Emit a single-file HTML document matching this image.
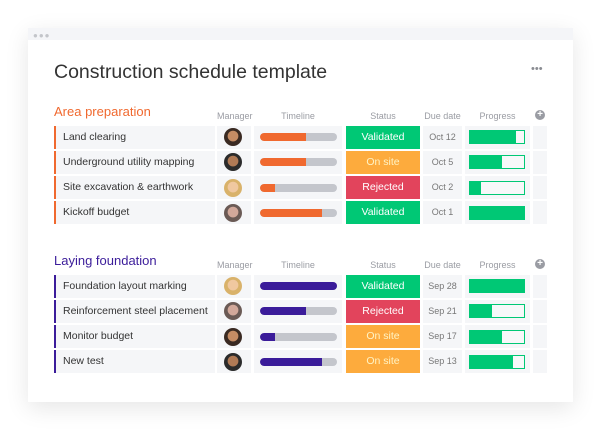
<!DOCTYPE html>
<html><head><meta charset="utf-8"><style>
body{margin:0;width:600px;height:432px;background:#fff;font-family:"Liberation Sans",sans-serif;position:relative;overflow:hidden}
.abs{position:absolute}
#card{left:28px;top:28px;width:545px;height:374px;background:#fff;box-shadow:0 6px 22px rgba(0,0,0,0.10)}
#strip{left:28px;top:28px;width:545px;height:12px;background:#f4f5f8}
.cell{position:absolute;background:#f5f6f8;height:23px}
.txt{font-size:10.5px;color:#333;line-height:23px}
.hdr{font-size:9px;color:#9a9ca3;text-align:center}
</style></head><body>
<div id="card" class="abs"></div>
<div id="strip" class="abs"></div>
<div class="abs" style="left:33px;top:31px;font-size:8px;color:#c3c5ca;letter-spacing:1px">●●●</div>
<div class="abs" style="left:54px;top:61px;font-size:19.5px;color:#333">Construction schedule template</div>
<div class="abs" style="left:531px;top:63px;font-size:11px;color:#8a8c92;letter-spacing:0px">•••</div>
<div id="root"></div>
<script>
const groupTitles=["Area preparation","Laying foundation"];
const groupColors=["#f0692f","#3b1c9a"];
const names=[["Land clearing","Underground utility mapping","Site excavation & earthwork","Kickoff budget"],["Foundation layout marking","Reinforcement steel placement","Monitor budget","New test"]];
const timeline=[[0.6,0.6,0.2,0.8],[1.0,0.6,0.2,0.8]];
const statuses=[["Validated","On site","Rejected","Validated"],["Validated","Rejected","On site","On site"]];
const dueDates=[["Oct 12","Oct 5","Oct 2","Oct 1"],["Sep 28","Sep 21","Sep 17","Sep 13"]];
const progress=[[0.85,0.6,0.2,1.0],[1.0,0.4,0.6,0.8]];
const headers=["Manager","Timeline","Status","Due date","Progress"];
const statusColor={"Validated":"#00c875","On site":"#fdab3d","Rejected":"#e2445c"};
const statusText={"Validated":"#fff","On site":"#fff3c4","Rejected":"#fff"};
const avatarColors=[["#3a2a22","#c58c64"],["#2b2b2b","#b07a55"],["#d9b26a","#f0c8a0"],["#6a5a55","#d2a89a"]];
const root=document.getElementById('root');
function mk(cls,style,html){const d=document.createElement('div');d.className=cls;d.style.cssText=style;if(html!==undefined)d.innerHTML=html;root.appendChild(d);return d;}
const groupTop=[104,253];
const hdrX=[217,254,346,423,465],hdrW=[34,88,74,39,65];
groupTitles.forEach((t,g)=>{
  const gy=groupTop[g];
  let e=mk('abs',`left:54px;top:${gy}px;font-size:13px;color:${groupColors[g]}`,t);
  
  
  headers.forEach((h,i)=>{
    e=mk('abs hdr',`left:${hdrX[i]}px;top:${gy+7}px;width:${hdrW[i]}px`,h);
    
    
  });
  e=mk('abs',`left:535px;top:${gy+6}px;width:10px;height:10px;border-radius:50%;background:#9a9ca3;color:#fff;font-size:10px;line-height:10px;text-align:center;font-weight:bold`,'+');
  
  
  names[g].forEach((n,r)=>{
    const y=gy+21.5+r*25.3;
    e=mk('cell',`left:54px;top:${y}px;width:159px;border-left:2px solid ${groupColors[g]}`);
    
    
    e=mk('abs txt',`left:63px;top:${y}px`,n);
    
    
    mk('cell',`left:217px;top:${y}px;width:34px`);
    const ac=avatarColors[(r+g*2)%4];
    e=mk('abs',`left:224px;top:${y+2.5}px;width:18px;height:18px;border-radius:50%;background:radial-gradient(circle at 50% 45%,${ac[1]} 0 38%,${ac[0]} 42%)`);
    
    
    mk('cell',`left:254px;top:${y}px;width:88px`);
    e=mk('abs',`left:260px;top:${y+7.5}px;width:77px;height:8px;border-radius:4px;background:#c4c6cc;overflow:hidden`);
    
    
    const f=document.createElement('div');f.style.cssText=`height:100%;width:${timeline[g][r]*100}%;background:${groupColors[g]};border-radius:4px 0 0 4px`;e.appendChild(f);
    const s=statuses[g][r];
    e=mk('abs',`left:346px;top:${y}px;width:74px;height:23px;background:${statusColor[s]};color:${statusText[s]};font-size:10.5px;line-height:23px;text-align:center`,s);
    
    
    mk('cell',`left:423px;top:${y}px;width:39px`);
    e=mk('abs',`left:423px;top:${y}px;width:39px;font-size:9px;color:#777;line-height:23px;text-align:center`,dueDates[g][r]);
    
    
    mk('cell',`left:465px;top:${y}px;width:65px`);
    e=mk('abs',`left:469px;top:${y+4.5}px;width:54px;height:12px;border:1px solid #00c875;background:#f7f8f9`);
    
    
    const p=document.createElement('div');p.style.cssText=`height:100%;width:${progress[g][r]*100}%;background:#00c875`;e.appendChild(p);
    mk('cell',`left:533px;top:${y}px;width:14px`);
  });
});
</script>
</body></html>
